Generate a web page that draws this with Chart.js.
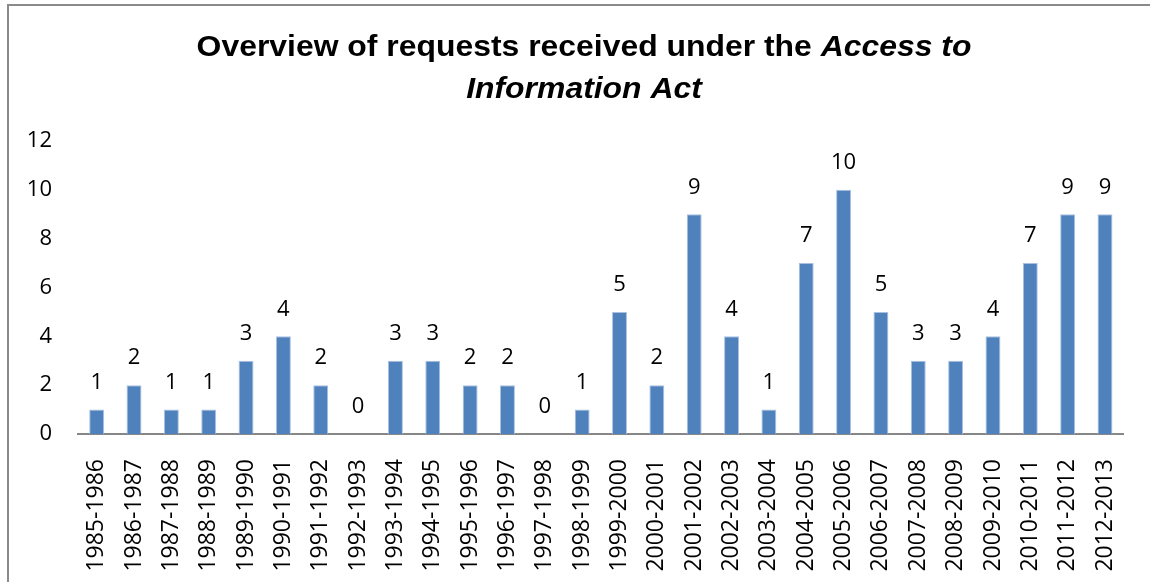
<!DOCTYPE html>
<html>
<head>
<meta charset="utf-8">
<script src="https://cdn.jsdelivr.net/npm/chart.js@4.4.1/dist/chart.umd.min.js"></script>
<style>
  html, body { margin: 0; padding: 0; background: #fff; overflow: hidden; }
  #caixa { position: relative; width: 1150px; height: 582px; }
</style>
</head>
<body>
<div id="caixa"><canvas id="chartPedidos"></canvas></div>
<script>
const categorias = ['1985-1986', '1986-1987', '1987-1988', '1988-1989', '1989-1990', '1990-1991', '1991-1992',
    '1992-1993', '1993-1994', '1994-1995', '1995-1996', '1996-1997', '1997-1998', '1998-1999', '1999-2000',
    '2000-2001', '2001-2002', '2002-2003', '2003-2004', '2004-2005', '2005-2006', '2006-2007', '2007-2008',
    '2008-2009', '2009-2010', '2010-2011', '2011-2012', '2012-2013'];
const pedidos = [1, 2, 1, 1, 3, 4, 2, 0, 3, 3, 2, 2, 0, 1, 5, 2, 9, 4, 1, 7, 10, 5, 3, 3, 4, 7, 9, 9];
const ticksY = [0, 2, 4, 6, 8, 10, 12];
const tituloLinha1 = [['Overview of requests received under the ', false], ['Access to', true]];
const tituloLinha2 = [['Information Act', true]];

// moldura cinza, titulo com trechos em italico e rotulos acima das barras
const pluginExtras = {
    id: 'extras',
    beforeDraw(chart) {
        const c = chart.ctx;
        c.save();
        c.strokeStyle = '#8a8a8a';
        c.lineWidth = 2;
        c.strokeRect(8, 5, 1300, 700);
        c.restore();
    },
    afterDraw(chart) {
        const c = chart.ctx;
        c.save();
        c.fillStyle = '#000';
        c.textBaseline = 'alphabetic';
        const fonte = it => (it ? 'italic ' : '') + 'bold 29px "Liberation Sans", Arial, sans-serif';
        const desenhaLinha = (partes, cx, y) => {
            let total = 0;
            partes.forEach(p => {
                c.font = fonte(p[1]);
                total += c.measureText(p[0]).width;
            });
            c.save();
            c.translate(cx, y);
            c.scale(1.1, 1); // o titulo original esta um pouco esticado
            let x = -total / 2;
            c.textAlign = 'left';
            partes.forEach(p => {
                c.font = fonte(p[1]);
                c.fillText(p[0], x, 0);
                x += c.measureText(p[0]).width;
            });
            c.restore();
        };
        desenhaLinha(tituloLinha1, 584, 56);
        desenhaLinha(tituloLinha2, 584, 98);

        c.font = '22px "Open Sans", sans-serif';
        c.textAlign = 'center';
        c.textBaseline = 'middle';
        chart.getDatasetMeta(0).data.forEach((bar, i) => {
            c.fillText(String(pedidos[i]), bar.x, bar.y - 27);
        });
        c.restore();
    }
};

function carregarGrafico() {
    const ctx = document.getElementById('chartPedidos').getContext('2d');
    const myChart = new Chart(ctx, {
        type: 'bar',
        data: {
            labels: categorias,
            datasets: [{
                data: pedidos,
                backgroundColor: '#4F81BD',
                borderColor: '#a9c1df',
                borderWidth: 1,
                barPercentage: 0.8,
                categoryPercentage: 0.5
            }]
        },
        options: {
            responsive: true,
            maintainAspectRatio: false,
            animation: false,
            layout: {
                padding: { top: 141, right: 23, bottom: 0, left: 0 }
            },
            scales: {
                x: {
                    grid: { display: false },
                    border: { display: true, color: '#878787', width: 2 },
                    ticks: {
                        color: '#000',
                        font: { family: '"Open Sans", sans-serif', size: 23 },
                        minRotation: 90,
                        maxRotation: 90,
                        autoSkip: false,
                        padding: 17
                    },
                    afterFit(scale) { scale.height = 148; }
                },
                y: {
                    min: 0,
                    max: 12,
                    afterBuildTicks(scale) { scale.ticks = ticksY.map(v => ({ value: v })); },
                    grid: { display: false },
                    border: { display: false },
                    ticks: {
                        color: '#000',
                        font: { family: '"Open Sans", sans-serif', size: 22 },
                        padding: 18
                    },
                    afterFit(scale) { scale.width = 78; }
                }
            },
            plugins: {
                legend: { display: false },
                tooltip: { enabled: false },
                title: { display: false }
            }
        },
        plugins: [pluginExtras]
    });
    window.myChart = myChart;
}

carregarGrafico()
</script>
</body>
</html>
